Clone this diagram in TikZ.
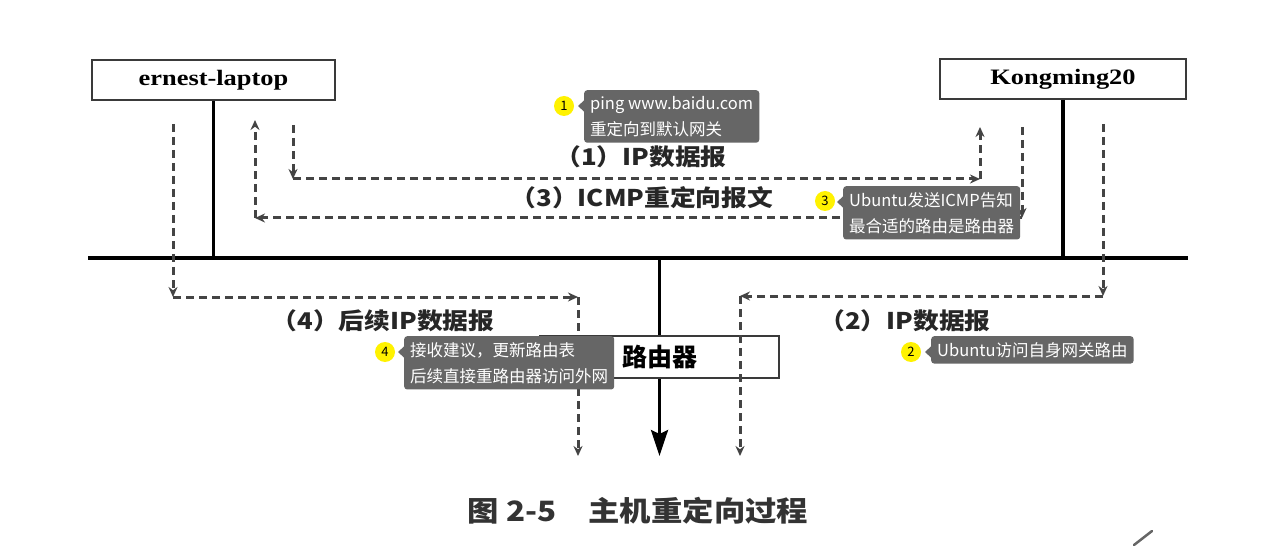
\documentclass[tikz,border=0pt]{standalone}
\usepackage{fontspec}
\setmainfont{Liberation Serif}
\newfontfamily\hostfont{Liberation Serif}[FakeStretch=1.2]
\newfontfamily\cjk{Noto Sans CJK SC}
\newfontfamily\cjkwide{Noto Sans CJK SC}[FakeStretch=1.12]
\usetikzlibrary{arrows.meta,calc}
\definecolor{tipgray}{HTML}{666666}
\definecolor{dashgray}{HTML}{444444}
\definecolor{boxgray}{HTML}{3A3A3A}
\tikzset{
  hostbox/.style={draw=boxgray, line width=2pt, fill=white, minimum height=40pt,
    font=\hostfont\bfseries\fontsize{22}{24}\selectfont, inner sep=0pt},
  wire/.style={line width=3.2pt, black},
  dpath/.style={draw=dashgray, line width=3pt, dash pattern=on 8pt off 5pt,
    -{Stealth[length=10pt,width=9pt]}},
  lbl/.style={font=\cjkwide\bfseries\fontsize{23}{26}\selectfont, text=black!85, inner sep=1pt},
  tip/.style={fill=tipgray, rounded corners=3pt, text=white, align=left,
    font=\cjk\fontsize{16.5}{26}\selectfont, inner xsep=6pt, inner ysep=6pt, anchor=north west},
  marker/.style={circle, fill=yellow, inner sep=0pt, minimum size=20pt,
    font=\cjk\fontsize{13}{13}\selectfont}
}
\newcommand{\tippointer}[1]{%
  \fill[tipgray] ($(#1.north west)+(0.5,10)$) -- ($(#1.north west)+(-6,16)$) -- ($(#1.north west)+(0.5,22)$) -- cycle;}
\begin{document}
\begin{tikzpicture}[x=1pt,y=-1pt]
\useasboundingbox (0,0) rectangle (1272,548);
\fill[white] (0,0) rectangle (1272,548);

% hosts, bus and router
\node[hostbox, minimum width=243pt] (laptop) at (213.5,80) {ernest-laptop};
\node[hostbox, minimum width=246pt] (kong) at (1063,79) {Kongming20};
\coordinate (busL) at (88,258);
\coordinate (busR) at (1188,258);
\draw[wire] (busL) -- (busR);
\draw[wire] (laptop.south) -- (laptop.south |- busL);
\draw[wire] (kong.south) -- (kong.south |- busL);
\node[draw=boxgray, line width=2pt, fill=white, minimum width=239pt, minimum height=42pt,
  font=\cjk\bfseries\fontsize{25}{27}\selectfont] (router) at (659.5,357) {路由器};
\draw[wire] (router.north) -- (router.north |- busL);
\coordinate (out) at (659.5,456);
\draw[wire, -{Stealth[length=26pt,width=17pt,inset=4pt]}] (router.south) -- (out);

% (1) datagram from laptop to Kongming20
\coordinate (p1a) at (293,125);
\coordinate (p1b) at (293,179);
\coordinate (p1c) at (980,179);
\coordinate (p1d) at (980,127);
\draw[dpath] (p1a) -- (p1b);
\draw[dpath] (p1b) -- (p1c);
\draw[dpath] (p1c) -- (p1d);

% (3) ICMP redirect back to laptop
\coordinate (p3a) at (1022,127);
\coordinate (p3b) at (1022,218);
\coordinate (p3c) at (255,218);
\coordinate (p3d) at (255,120);
\draw[dpath] (p3a) -- (p3b);
\draw[dpath] (p3b) -- (p3c);
\draw[dpath] (p3c) -- (p3d);

% (2) Kongming20 forwards to router
\coordinate (p2a) at (1103,124);
\coordinate (p2b) at (1103,296);
\coordinate (p2c) at (740,296);
\coordinate (p2d) at (740,456);
\draw[dpath] (p2a) -- (p2b);
\draw[dpath] (p2b) -- (p2c);
\draw[dpath] (p2c) -- (p2d);

% (4) later datagrams straight to router
\coordinate (p4a) at (173,124);
\coordinate (p4b) at (173,297);
\coordinate (p4c) at (578,297);
\coordinate (p4d) at (578,456);
\draw[dpath] (p4a) -- (p4b);
\draw[dpath] (p4b) -- (p4c);
\draw[dpath] (p4c) -- (p4d);

% step labels
\node[lbl] (l1) at (641,157) {（1）IP数据报};
\node[lbl] (l3) at (642,198) {（3）ICMP重定向报文};
\node[lbl] (l4) at (383,321) {（4）后续IP数据报};
\node[lbl] (l2) at (905,321) {（2）IP数据报};

% caption
\node[font=\cjkwide\bfseries\fontsize{28}{32}\selectfont, text=black!80] (cap) at (638,511)
  {图 2-5\hspace{32pt}主机重定向过程};

% stray pen mark
\coordinate (ma) at (1134,545);
\coordinate (mb) at (1152,531);
\draw[black!60, line width=2.5pt, line cap=round] (ma) -- (mb);

% annotations
\node[marker] (m1) at (564,106) {1};
\node[tip] (t1) at (584,90) {ping www.baidu.com\\重定向到默认网关};
\tippointer{t1}
\node[marker] (m3) at (825,201) {3};
\node[tip] (t3) at (843,186) {Ubuntu发送ICMP告知\\最合适的路由是路由器};
\tippointer{t3}
\node[marker] (m4) at (385,352) {4};
\node[tip] (t4) at (404,336) {接收建议，更新路由表\\后续直接重路由器访问外网};
\tippointer{t4}
\node[marker] (m2) at (911,352) {2};
\node[tip] (t2) at (931,336) {Ubuntu访问自身网关路由};
\tippointer{t2}
\end{tikzpicture}
\end{document}
